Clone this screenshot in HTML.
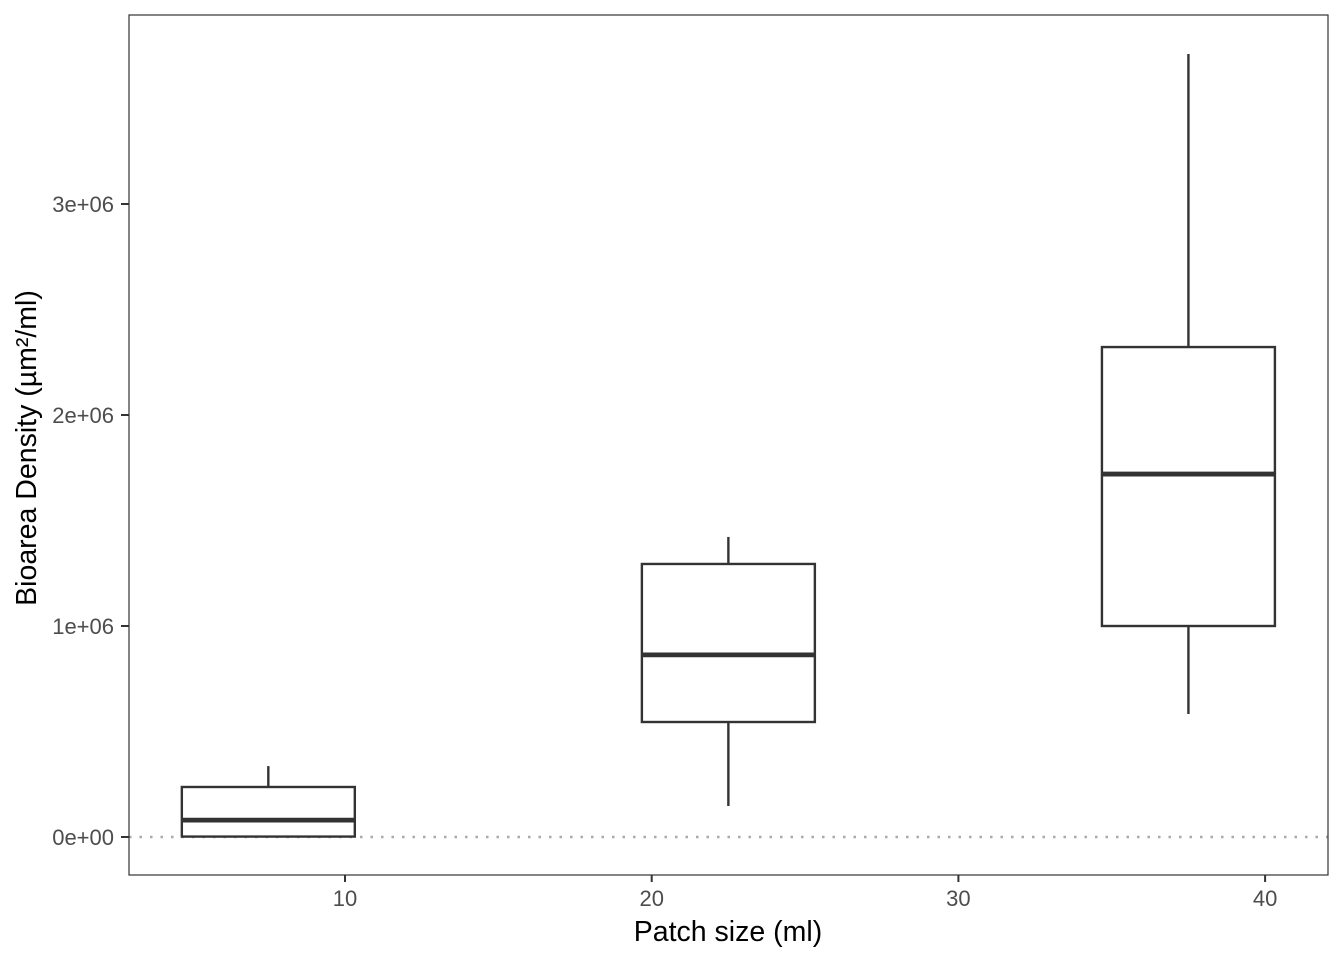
<!DOCTYPE html>
<html><head><meta charset="utf-8"><style>
body{margin:0;background:#fff}
svg{display:block;font-family:"Liberation Sans",Arial,sans-serif}
</style></head><body>
<svg id="chart" width="1344" height="960">
<rect x="0" y="0" width="1344" height="960" fill="#fff"/>
<g id="plot"></g>
<rect x="129" y="15" width="1199" height="860" fill="none" stroke="#333" stroke-width="1.2"/>
<text x="728" y="941" font-size="28.5" text-anchor="middle" fill="#000">Patch size (ml)</text>
<text transform="translate(36,448) rotate(-90)" font-size="28.5" text-anchor="middle" fill="#000">Bioarea Density (µm²/ml)</text>
</svg>
<script>
const categories=[7.5,22.5,37.5];
const whiskerLow=[0,147000,583000];
const q1=[2000,545000,1000000];
const median=[80000,863000,1720000];
const q3=[237000,1294000,2322000];
const whiskerHigh=[336000,1422000,3711000];
const xTicks=[10,20,30,40];
const yTicks=[0,1000000,2000000,3000000];
const yTickLabels=["0e+00","1e+06","2e+06","3e+06"];
const boxHalfWidth=2.82;

const sx=v=>345+(v-10)*30.67;
const sy=v=>837-v*211/1e6;
const NS="http://www.w3.org/2000/svg";
const g=document.getElementById('plot');
function mk(t,a){const e=document.createElementNS(NS,t);for(const k in a)e.setAttribute(k,a[k]);g.appendChild(e);return e;}

let z=mk('line',{x1:129,x2:1328,y1:sy(0),y2:sy(0),stroke:'#aaa','stroke-width':2.5,'stroke-dasharray':'2.5,8'});



xTicks.forEach(t=>{
  const l=mk('line',{x1:sx(t),x2:sx(t),y1:875,y2:882,stroke:'#333','stroke-width':2});
  
  
  const tx=mk('text',{x:sx(t),y:906,'font-size':22,'text-anchor':'middle',fill:'#4d4d4d'});
  tx.textContent=t;
  
  
});
yTicks.forEach((t,i)=>{
  const l=mk('line',{x1:121,x2:129,y1:sy(t),y2:sy(t),stroke:'#333','stroke-width':2});
  
  
  const tx=mk('text',{x:114,y:sy(t)+8,'font-size':22,'text-anchor':'end',fill:'#4d4d4d'});
  tx.textContent=yTickLabels[i];
  
  
});
categories.forEach((c,i)=>{
  const cx=sx(c),x0=sx(c-boxHalfWidth),x1=sx(c+boxHalfWidth);
  const w1=mk('line',{x1:cx,x2:cx,y1:sy(q3[i]),y2:sy(whiskerHigh[i]),stroke:'#333','stroke-width':2.4});
  
  
  const w2=mk('line',{x1:cx,x2:cx,y1:sy(q1[i]),y2:sy(whiskerLow[i]),stroke:'#333','stroke-width':2.4});
  
  
  const b=mk('rect',{x:x0,y:sy(q3[i]),width:x1-x0,height:sy(q1[i])-sy(q3[i]),fill:'#fff',stroke:'#333','stroke-width':2.4});
  
  
  const m=mk('line',{x1:x0,x2:x1,y1:sy(median[i]),y2:sy(median[i]),stroke:'#333','stroke-width':4.8});
  
  
});
</script>
</body></html>
